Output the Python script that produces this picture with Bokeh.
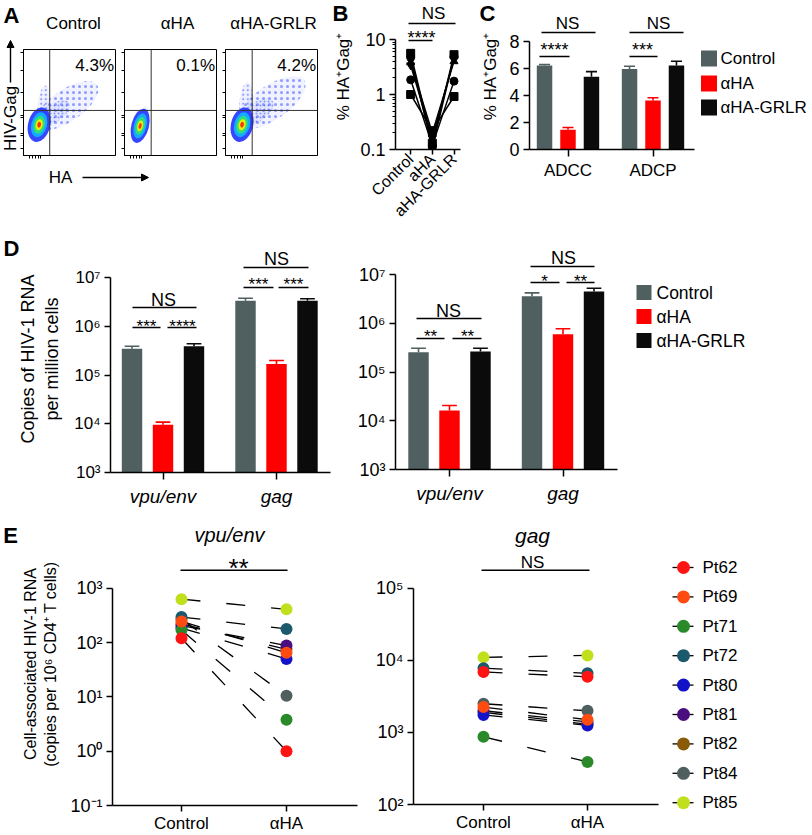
import math
from bokeh.plotting import figure
from bokeh.models import Range1d, FixedTicker, Label, Arrow, NormalHead, Span
from bokeh.embed import file_html
from bokeh.resources import INLINE
from bokeh.core.properties import value

FONT = "Liberation Sans"

# ------------------------------------------------------------------ DATA
# Panel A (flow cytometry)
flow_titles = ["Control", "αHA", "αHA-GRLR"]
flow_percent = ["4.3%", "0.1%", "4.2%"]
flow_core_x = [0.17, 0.17, 0.18]
flow_core_y = [0.29, 0.28, 0.29]
flow_gate_x = [0.285, 0.29, 0.29]
flow_gate_y = [0.425, 0.425, 0.425]

# Panel B (donors, % HA+Gag+)
b_labels = ["Control", "aHA", "aHA-GRLR"]
b_control = [5.6, 4.7, 3.8, 3.4, 1.85, 1.0]
b_aha = [0.13, 0.11, 0.20, 0.16, 0.12, 0.22]
b_grlr = [5.3, 4.9, 4.0, 4.4, 1.75, 0.92]
b_markers = ["square", "circle", "triangle", "inverted_triangle", "circle", "square"]

# Shared bar series
series = ["Control", "αHA", "αHA-GRLR"]
series_colors = ["#505f5f", "#ff0000", "#0b0b0b"]

# Panel C
c_groups = ["ADCC", "ADCP"]
c_means = [[6.2, 5.95], [1.45, 3.62], [5.38, 6.2]]
c_sem = [[0.08, 0.2], [0.17, 0.2], [0.37, 0.32]]

# Panel D
d_groups = ["vpu/env", "gag"]
d1_means = [[3.45e5, 3.32e6], [9.5e3, 1.69e5], [3.9e5, 3.32e6]]
d1_upper = [[3.9e5, 3.76e6], [1.08e4, 1.98e5], [4.37e5, 3.66e6]]
d2_means = [[2.55e5, 3.59e6], [1.62e4, 5.97e5], [2.63e5, 4.48e6]]
d2_upper = [[3.07e5, 4.2e6], [2.06e4, 7.7e5], [3.07e5, 5.24e6]]

# Panel E
patients = ["Pt62", "Pt69", "Pt71", "Pt72", "Pt80", "Pt81", "Pt82", "Pt84", "Pt85"]
patient_colors = ["#ff1414", "#ff4a10", "#2a8a2a", "#1b5a6c", "#1212c8",
                  "#4a0f7e", "#8a5a08", "#4f5e5e", "#c2df1e"]
e_conditions = ["Control", "αHA"]
e_vpu_control = [120, 245, 170, 295, 185, 205, 220, 270, 630]
e_vpu_aha = [1.0, 65, 3.8, 178, 50, 88, 75, 10.5, 410]
e_gag_control = [6900, 2250, 870, 7800, 1750, 2000, 1900, 2500, 11000]
e_gag_aha = [5900, 1500, 390, 6600, 1250, 1400, 1300, 2000, 11700]

# ------------------------------------------------------------------ HELPERS
ALL = []


def fig_at(frame, borders, xr, yr, log=False, axes=True):
    """frame = (x0, y0, x1, y1) in page pixels; borders = (left, right, top, bottom)."""
    x0, y0, x1, y1 = frame
    bl, br, bt, bb = borders
    kw = dict(width=int(x1 - x0 + bl + br), height=int(y1 - y0 + bt + bb),
              x_range=xr, y_range=yr, output_backend="svg", toolbar_location=None,
              min_border_left=bl, min_border_right=br,
              min_border_top=bt, min_border_bottom=bb,
              styles={"position": "absolute", "left": f"{x0 - bl}px",
                      "top": f"{y0 - bt}px"})
    if log:
        kw["y_axis_type"] = "log"
    if not axes:
        kw["x_axis_location"] = None
        kw["y_axis_location"] = None
    p = figure(**kw)
    p.outline_line_color = None
    p.grid.visible = False
    p.background_fill_color = None
    p.border_fill_color = None
    for ax in p.axis:
        ax.axis_line_width = 1.5
        ax.axis_line_color = "black"
        ax.major_tick_line_width = 1.5
        ax.major_tick_line_color = "black"
        ax.major_tick_in = 0
        ax.major_tick_out = 6
        ax.minor_tick_line_color = None
        ax.major_label_text_font = FONT
        ax.major_label_text_color = "black"
        ax.major_label_standoff = 4
        ax.axis_label_text_font = FONT
        ax.axis_label_text_font_style = "normal"
        ax.axis_label_text_color = "black"
    ALL.append(p)
    return p


def lab(p, x, y, text, size="17px", align="center", baseline="middle",
        style="normal", angle=0.0):
    p.add_layout(Label(x=x, y=y, text=text, text_font=FONT, text_font_size=size,
                       text_align=align, text_baseline=baseline,
                       text_font_style=style, angle=angle, text_color="black"))


def add_sigs(p, fx, fy, specs):
    for (x0, x1, yl, txt, xt, yt, fs) in specs:
        p.segment(x0=[fx(x0)], y0=[fy(yl)], x1=[fx(x1)], y1=[fy(yl)],
                  line_color="black", line_width=1.5)
        if "*" in txt:
            yt = yt + 0.23 * fs
        lab(p, fx(xt), fy(yt), txt, size=f"{fs}px")


def draw_bars(p, means, uppers, bottom, off=0.273, width=0.18, cap=0.065):
    for s in range(3):
        xs = [g + (s - 1) * off for g in range(len(means[s]))]
        p.vbar(x=xs, top=means[s], bottom=bottom, width=width,
               fill_color=series_colors[s], line_color=None)
        p.segment(x0=xs, y0=means[s], x1=xs, y1=uppers[s],
                  line_color=series_colors[s], line_width=1.6)
        p.segment(x0=[x - cap for x in xs], y0=uppers[s],
                  x1=[x + cap for x in xs], y1=uppers[s],
                  line_color=series_colors[s], line_width=1.6)

# ------------------------------------------------------------------ PANEL A
flow_xticks = [0.07, 0.10, 0.13, 0.16, 0.19]
flow_yticks = [0.07, 0.19, 0.21, 0.36, 0.38, 0.59, 0.80, 0.97]
flow_frames = [(23, 49, 115, 155), (124, 49, 216, 155), (225, 49, 317, 155)]
level_w = [0.24, 0.17, 0.12, 0.075, 0.04]
level_h = [0.33, 0.24, 0.17, 0.105, 0.055]
level_colors = ["#2b3dff", "#12b2ff", "#34e070", "#f2f000", "#ff2a00"]
tails = [
    [(0.47, 0.47, 0.80, 0.30, 0.60, 6), (0.33, 0.40, 0.40, 0.17, 0.60, 4),
     (0.22, 0.48, 0.13, 0.36, -0.10, 4.5)],
    [(0.21, 0.36, 0.10, 0.22, -0.20, 6)],
    [(0.50, 0.50, 0.86, 0.32, 0.60, 6), (0.34, 0.41, 0.42, 0.18, 0.60, 4),
     (0.22, 0.50, 0.14, 0.38, -0.10, 4.5)],
]
for i in range(3):
    p = fig_at(flow_frames[i], (7, 2, 2, 7), Range1d(0, 1), Range1d(0, 1))
    p.outline_line_color = "black"
    p.outline_line_width = 1
    for ax in p.axis:
        ax.major_tick_out = 3
        ax.major_tick_line_width = 1
        ax.axis_line_width = 1
        ax.major_label_standoff = 0
        ax.major_label_text_font_size = "1px"
    p.xaxis.ticker = FixedTicker(ticks=flow_xticks)
    p.xaxis.major_label_overrides = {t: "" for t in flow_xticks}
    p.yaxis.ticker = FixedTicker(ticks=flow_yticks)
    p.yaxis.major_label_overrides = {t: "" for t in flow_yticks}
    for (cx, cy, ew, eh, ang, sc) in tails[i]:
        p.ellipse(x=[cx], y=[cy], width=[ew], height=[eh], angle=[ang],
                  fill_color="#6a80ff", fill_alpha=0.10, line_color=None,
                  hatch_pattern="dot", hatch_color="#2b44ff", hatch_scale=sc,
                  hatch_weight=0.8, hatch_alpha=0.5)
    sx = 0.8 if i == 1 else 1.0
    for k in range(5):
        p.ellipse(x=[flow_core_x[i]], y=[flow_core_y[i]], width=[level_w[k] * sx],
                  height=[level_h[k]], angle=[-0.25], fill_color=level_colors[k],
                  line_color=None, fill_alpha=0.95)
    p.add_layout(Span(location=flow_gate_x[i], dimension="height",
                      line_color="#333333", line_width=1))
    p.add_layout(Span(location=flow_gate_y[i], dimension="width",
                      line_color="#333333", line_width=1))
    lab(p, 0.985, 0.85, flow_percent[i], size="17px", align="right")

# ------------------------------------------------------------------ PANEL B
bfx = lambda px: -0.7 + (px - 395) / 21.667
bfy = lambda py: 10 ** (-1 + (149 - py) / 55.0)
pb = fig_at((395, 3, 460, 149), (65, 8, 0, 80),
            Range1d(bfx(395), bfx(460)), Range1d(bfy(149), bfy(3)), log=True)
pb.yaxis.bounds = (0.1, 10)
pb.yaxis.ticker = FixedTicker(ticks=[0.1, 1, 10],
                              minor_ticks=[0.2, 0.3, 0.4, 0.5, 0.6, 0.7, 0.8, 0.9,
                                           2, 3, 4, 5, 6, 7, 8, 9])
pb.yaxis.major_label_overrides = {0.1: "0.1", 1: "1", 10: "10"}
pb.yaxis.minor_tick_line_color = "black"
pb.yaxis.minor_tick_line_width = 1.2
pb.yaxis.minor_tick_out = 3
pb.yaxis.minor_tick_in = 0
pb.yaxis.major_label_text_font_size = "18px"
pb.yaxis.axis_label = "% HA⁺Gag⁺"
pb.yaxis.axis_label_text_font_size = "17px"
pb.yaxis.axis_label_standoff = 4
pb.xaxis.ticker = FixedTicker(ticks=[0, 1, 2])
pb.xaxis.major_label_overrides = {i: t for i, t in enumerate(b_labels)}
pb.xaxis.major_label_orientation = math.pi / 4
pb.xaxis.major_label_text_font_size = "16px"
pb.xaxis.major_label_standoff = 2
pb.xaxis.major_tick_out = 5
for j in range(len(b_control)):
    ys = [b_control[j], b_aha[j], b_grlr[j]]
    pb.line([0, 1, 2], ys, line_color="black", line_width=1.5)
    pb.scatter([0, 1, 2], ys, marker=b_markers[j], size=8, color="black")
add_sigs(pb, bfx, bfy, [(408, 455, 23, "NS", 433, 13, 17),
                        (408, 432, 40, "****", 421, 33, 18)])

# ------------------------------------------------------------------ PANEL C
cfx = lambda px: (px - 567.5) / 85.0
cfy = lambda py: (149 - py) / 13.54
pc = fig_at((529, 3, 694, 149), (59, 4, 0, 40),
            Range1d(cfx(529), cfx(694)), Range1d(0, cfy(3)))
pc.yaxis.bounds = (0, 8)
pc.yaxis.ticker = FixedTicker(ticks=[0, 2, 4, 6, 8])
pc.yaxis.major_label_text_font_size = "18px"
pc.yaxis.axis_label = "% HA⁺Gag⁺"
pc.yaxis.axis_label_text_font_size = "17px"
pc.yaxis.axis_label_standoff = 6
pc.xaxis.ticker = FixedTicker(ticks=[0, 1])
pc.xaxis.major_label_overrides = {i: t for i, t in enumerate(c_groups)}
pc.xaxis.major_label_text_font_size = "17px"
pc.xaxis.major_tick_out = 7
c_upper = [[m + e for m, e in zip(c_means[s], c_sem[s])] for s in range(3)]
draw_bars(pc, c_means, c_upper, 0, off=0.276, width=0.182)
add_sigs(pc, cfx, cfy, [(541, 595, 32, "NS", 567, 23, 17),
                        (539, 569, 56, "****", 554, 45.7, 18),
                        (629, 683, 32, "NS", 658, 23, 17),
                        (629, 657, 56, "***", 642, 45.7, 18)])

# ------------------------------------------------------------------ PANEL D
dlabels = {1e3: "10³", 1e4: "10⁴", 1e5: "10⁵", 1e6: "10⁶", 1e7: "10⁷"}


def d_axes(p):
    p.yaxis.bounds = (1e3, 1e7)
    p.yaxis.ticker = FixedTicker(ticks=list(dlabels.keys()))
    p.yaxis.major_label_overrides = dlabels
    p.yaxis.major_label_text_font_size = "17px"
    p.xaxis.ticker = FixedTicker(ticks=[0, 1])
    p.xaxis.major_label_overrides = {i: t for i, t in enumerate(d_groups)}
    p.xaxis.major_label_text_font_size = "19px"
    p.xaxis.major_label_text_font_style = "italic"
    p.xaxis.major_tick_out = 7
    p.xaxis.major_label_standoff = 6


d1fx = lambda px: (px - 162.5) / 113.5
d1fy = lambda py: 10 ** (3 + (472 - py) / 48.75)
pd1 = fig_at((110, 245, 330, 472), (102, 5, 0, 45),
             Range1d(d1fx(110), d1fx(330)), Range1d(1e3, d1fy(245)), log=True)
d_axes(pd1)
pd1.yaxis.axis_label = "Copies of HIV-1 RNA\nper million cells"
pd1.yaxis.axis_label_text_font_size = "18px"
pd1.yaxis.axis_label_standoff = 9
draw_bars(pd1, d1_means, d1_upper, 1e3)
add_sigs(pd1, d1fx, d1fy, [(132, 196, 307, "NS", 163, 299, 18),
                           (132, 160, 327, "***", 146, 322, 17),
                           (167, 196, 327, "****", 182, 322, 17),
                           (243, 308, 267, "NS", 276, 258, 18),
                           (243, 273, 287, "***", 258, 280, 17),
                           (278, 308, 287, "***", 293, 280, 17)])

d2fx = lambda px: (px - 449) / 113.5
d2fy = lambda py: 10 ** (3 + (469 - py) / 48.75)
pd2 = fig_at((395, 245, 617, 469), (55, 5, 0, 45),
             Range1d(d2fx(395), d2fx(617)), Range1d(1e3, d2fy(245)), log=True)
d_axes(pd2)
pd2.yaxis.major_label_text_font_size = "18px"
draw_bars(pd2, d2_means, d2_upper, 1e3)
add_sigs(pd2, d2fx, d2fy, [(416, 481, 318, "NS", 448, 310, 18),
                           (416, 444, 338, "**", 430, 332, 17),
                           (452, 481, 338, "**", 467, 332, 17),
                           (530, 594, 266, "NS", 563, 257, 18),
                           (530, 559, 282, "*", 544, 277, 17),
                           (566, 594, 282, "**", 580, 277, 17)])

# ------------------------------------------------------------------ PANEL E
def e_axes(p, labels):
    p.yaxis.bounds = (min(labels.keys()), max(labels.keys()))
    p.yaxis.ticker = FixedTicker(ticks=list(labels.keys()))
    p.yaxis.major_label_overrides = labels
    p.yaxis.major_label_text_font_size = "18px"
    p.xaxis.ticker = FixedTicker(ticks=[0, 1])
    p.xaxis.major_label_overrides = {i: t for i, t in enumerate(e_conditions)}
    p.xaxis.major_label_text_font_size = "17px"
    p.xaxis.major_label_standoff = 2


def e_points(p, ctrl, aha):
    for k in reversed(range(len(patients))):
        p.line([0, 1], [ctrl[k], aha[k]], line_color="black", line_width=1.3,
               line_dash="19 26")
    for k in reversed(range(len(patients))):
        p.scatter([0, 1], [ctrl[k], aha[k]], marker="circle", size=12,
                  color=patient_colors[k], line_color=None)


e1fx = lambda px: (px - 181) / 105.0
e1fy = lambda py: 10 ** (-1 + (806 - py) / 54.5)
pe1 = fig_at((112, 522, 357, 806), (104, 5, 0, 29),
             Range1d(e1fx(112), e1fx(357)), Range1d(0.1, e1fy(522)), log=True)
e_axes(pe1, {0.1: "10⁻¹", 1: "10⁰", 10: "10¹", 100: "10²", 1000: "10³"})
pe1.yaxis.axis_label = "Cell-associated HIV-1 RNA\n(copies per 10⁶ CD4⁺ T cells)"
pe1.yaxis.axis_label_text_font_size = "16px"
pe1.yaxis.axis_label_standoff = 8
e_points(pe1, e_vpu_control, e_vpu_aha)
add_sigs(pe1, e1fx, e1fy, [(180, 287, 570, "**", 238, 562, 26)])
lab(pe1, e1fx(229), e1fy(535), "vpu/env", size="20px", style="italic")

e2fx = lambda px: (px - 483) / 104.0
e2fy = lambda py: 10 ** (2 + (805 - py) / 72.33)
pe2 = fig_at((413, 522, 658, 805), (43, 5, 0, 29),
             Range1d(e2fx(413), e2fx(658)), Range1d(100, e2fy(522)), log=True)
e_axes(pe2, {100: "10²", 1000: "10³", 1e4: "10⁴", 1e5: "10⁵"})
e_points(pe2, e_gag_control, e_gag_aha)
add_sigs(pe2, e2fx, e2fy, [(481, 589, 570, "NS", 532, 562, 17)])
lab(pe2, e2fx(532), e2fy(535), "gag", size="21px", style="italic")

# ------------------------------------------------------------------ OVERLAY (letters, panel-A labels, legends)
ov = fig_at((0, 0, 812, 835), (0, 0, 0, 0), Range1d(0, 812), Range1d(835, 0), axes=False)
for (t, x, y) in [("A", 11, 15), ("B", 340, 13), ("C", 487, 13), ("D", 11, 248), ("E", 10, 535)]:
    lab(ov, x, y, t, size="22px", style="bold")
for t, x in zip(flow_titles, [73, 177, 273]):
    lab(ov, x, 23, t, size="17px")
lab(ov, 10, 118, "HIV-Gag", size="17px", angle=math.pi / 2)
ov.add_layout(Arrow(end=NormalHead(size=7, fill_color="black", line_color="black"),
                    x_start=10, y_start=82, x_end=10, y_end=40,
                    line_width=1.4, line_color="black"))
lab(ov, 60, 177, "HA", size="17px")
ov.add_layout(Arrow(end=NormalHead(size=7, fill_color="black", line_color="black"),
                    x_start=82, y_start=177, x_end=148, y_end=177,
                    line_width=1.4, line_color="black"))

# legend C
ov.scatter(x=[708.5] * 3, y=[58, 83, 107], marker="square", size=16,
           color=series_colors, line_color=None)
ov.text(x=[720] * 3, y=[58, 83, 107], text=series, text_font=value(FONT),
        text_font_size="17px", text_baseline="middle", text_align="left",
        text_color="black")
# legend D
ov.scatter(x=[643.5] * 3, y=[292, 316, 340], marker="square", size=15,
           color=series_colors, line_color=None)
ov.text(x=[656] * 3, y=[292, 316, 340], text=series, text_font=value(FONT),
        text_font_size="17.5px", text_baseline="middle", text_align="left",
        text_color="black")
# legend E
leg_y = [567 + 29.4 * k for k in range(len(patients))]
ov.segment(x0=[672] * len(patients), y0=leg_y, x1=[693] * len(patients), y1=leg_y,
           line_color="black", line_width=1.3)
ov.scatter(x=[683] * len(patients), y=leg_y, marker="circle", size=13,
           color=patient_colors, line_color=None)
ov.text(x=[702] * len(patients), y=leg_y, text=patients, text_font=value(FONT),
        text_font_size="17px", text_baseline="middle", text_align="left",
        text_color="black")

open("out.html", "w").write(file_html(ALL, INLINE))
